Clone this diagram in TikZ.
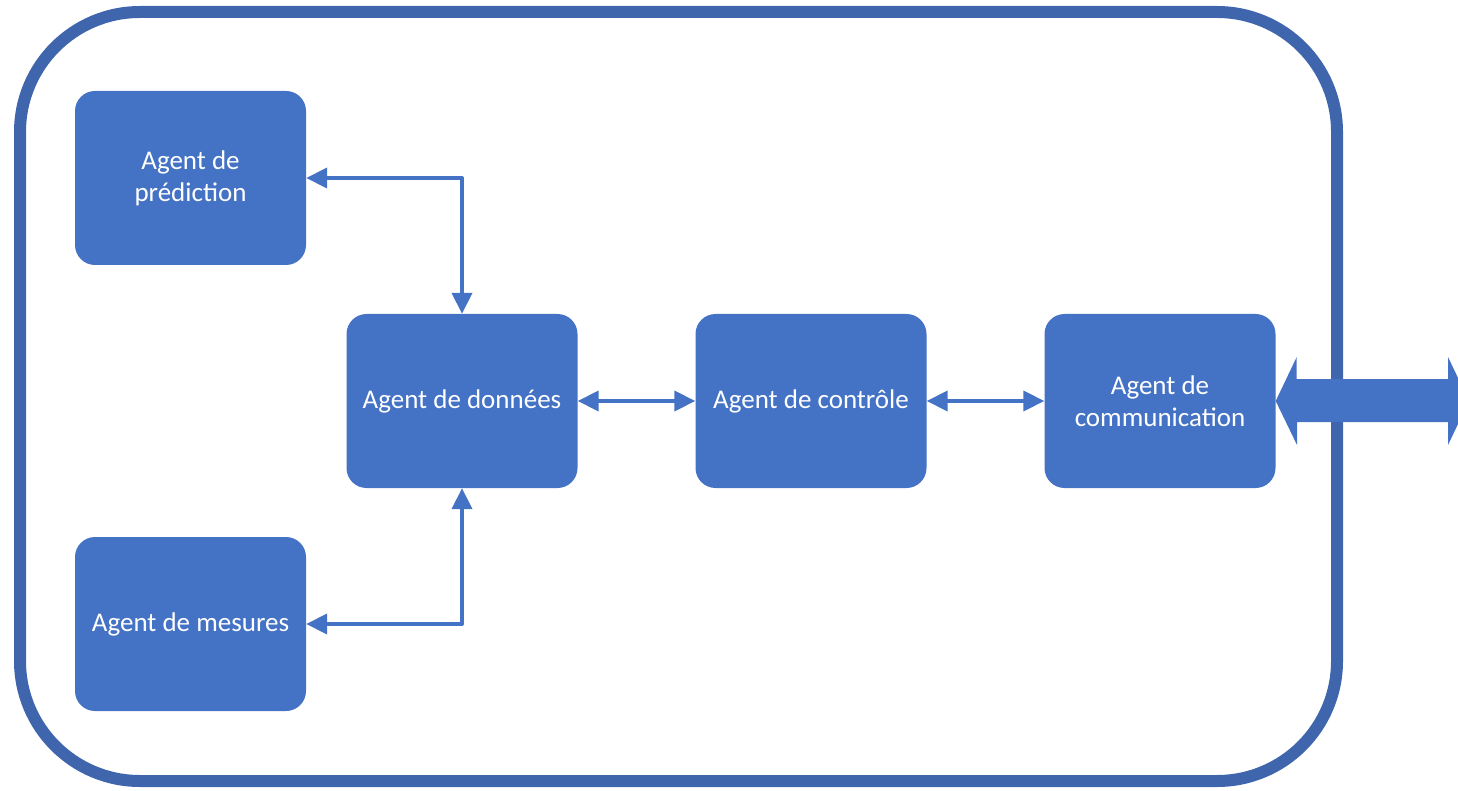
\documentclass[tikz,border=0pt]{standalone}
\usepackage{fontspec}
\setmainfont{Carlito}
\usetikzlibrary{arrows.meta}
\definecolor{boxblue}{HTML}{4472C4}
\definecolor{frameblue}{HTML}{3F65AD}
\tikzset{
  agent/.style={fill=boxblue, rounded corners=20pt, minimum width=231pt, minimum height=174pt,
    text=white, align=center, font=\fontsize{27}{32}\selectfont, inner sep=0pt},
  link/.style={draw=boxblue, line width=4pt, line join=round,
    {Triangle[length=21pt,width=20pt]}-{Triangle[length=21pt,width=20pt]}},
}
\begin{document}
\begin{tikzpicture}[x=1pt,y=-1pt]
\useasboundingbox (0,0) rectangle (1458,791);
\clip (0,0) rectangle (1458,791);
\draw[frameblue, line width=12pt, rounded corners=120pt] (20,12) rectangle (1337,781);
\node[agent] (pred) at (190.5,178) {Agent de\\prédiction};
\node[agent] (data) at (462,401) {Agent de données};
\node[agent] (ctrl) at (811,401) {Agent de contrôle};
\node[agent] (comm) at (1160,401) {Agent de\\communication};
\node[agent] (meas) at (190.5,624) {Agent de mesures};
\draw[link] (pred.east) -| (data.north);
\draw[link] (meas.east) -| (data.south);
\draw[link] (data.east) -- (ctrl.west);
\draw[link] (ctrl.east) -- (comm.west);
\coordinate (bigtip) at (1469,401);
\fill[boxblue] (comm.east) -- ++(21,-44) -- ++(0,22) -- (1448,379) -- (1448,357) -- (bigtip)
  -- (1448,445) -- (1448,422) -- (1297,422) -- (1297,445) -- cycle;
\end{tikzpicture}
\end{document}
